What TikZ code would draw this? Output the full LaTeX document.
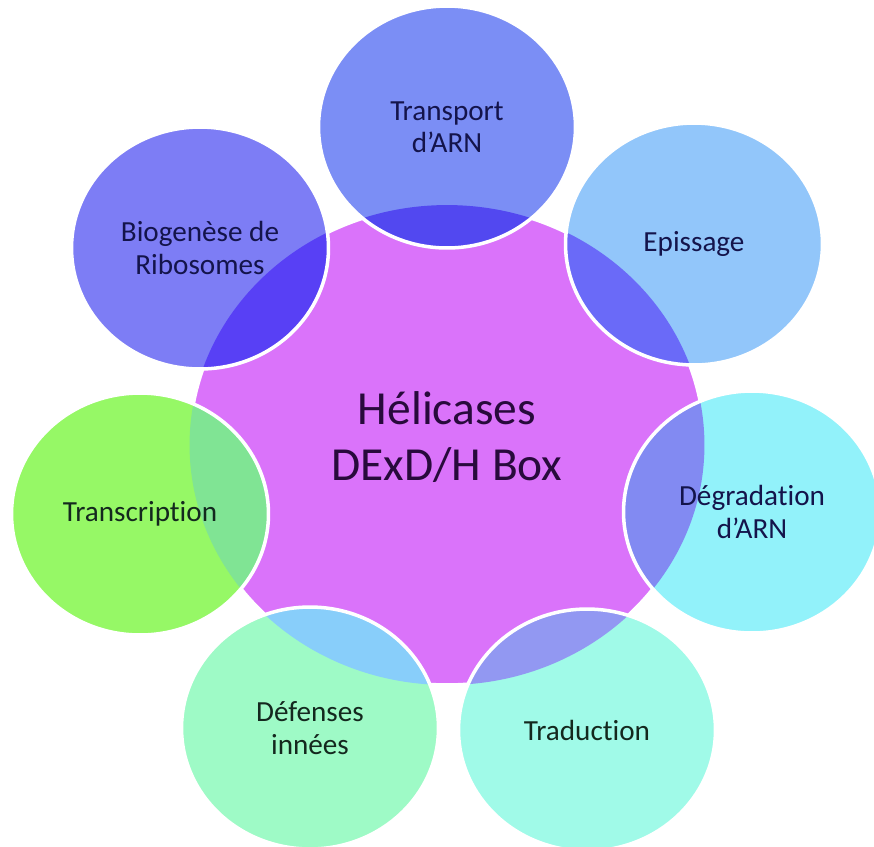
\documentclass[tikz,border=0pt]{standalone}
\usepackage{fontspec}
\setmainfont{Carlito}[Ligatures=NoCommon]
\usetikzlibrary{shapes.geometric}

\definecolor{hubpink}{RGB}{218,115,250}
\definecolor{hubtext}{RGB}{40,10,60}
\definecolor{navytext}{RGB}{20,20,75}
\definecolor{greentext}{RGB}{20,40,30}
\definecolor{transportfill}{RGB}{123,142,245}
\definecolor{transportlap}{RGB}{82,72,240}
\definecolor{biofill}{RGB}{125,125,245}
\definecolor{biolap}{RGB}{88,64,245}
\definecolor{episfill}{RGB}{146,198,250}
\definecolor{epislap}{RGB}{106,106,248}
\definecolor{degrfill}{RGB}{146,242,250}
\definecolor{degrlap}{RGB}{130,138,242}
\definecolor{tradfill}{RGB}{160,250,232}
\definecolor{tradlap}{RGB}{146,152,242}
\definecolor{defefill}{RGB}{158,250,198}
\definecolor{defelap}{RGB}{136,206,250}
\definecolor{transcfill}{RGB}{150,248,102}
\definecolor{transclap}{RGB}{128,228,148}

\begin{document}
\begin{tikzpicture}[
  x=0.02cm, y=-0.02cm,
  hub/.style={
    ellipse, minimum width=10.3cm, minimum height=9.6cm, inner sep=0pt,
    fill=hubpink, draw=white, line width=2pt
  },
  hubtitle/.style={
    text=hubtext, align=center, font=\fontsize{27}{32}\selectfont, yshift=0.16cm
  },
  topic/.style={
    ellipse, minimum width=5.14cm, minimum height=4.84cm, inner sep=0pt,
    draw=white, line width=2pt, align=center,
    text=navytext, font=\fontsize{16.6}{18.5}\selectfont
  },
  lap/.style={
    path picture={\fill[#1] (hub.center) ellipse [x radius=5.15cm, y radius=4.8cm];}
  },
]

\useasboundingbox (0,0) rectangle (874,846);

%% Central node
\node[hub, label={[hubtitle]center:Hélicases\\DExD/H Box}] (hub) at (447,445) {};

%% Surrounding functions (clockwise from top)
\node[topic, fill=transportfill, lap=transportlap] (transport) at (447,127)
  {Transport\\d’ARN};
\node[topic, fill=episfill, lap=epislap]           (epissage)  at (694,244)
  {Epissage};
\node[topic, fill=degrfill, lap=degrlap]           (degrad)    at (752,512)
  {Dégradation\\d’ARN};
\node[topic, fill=tradfill, lap=tradlap, text=greentext] (traduc) at (587,730)
  {Traduction};
\node[topic, fill=defefill, lap=defelap, text=greentext] (defense) at (310,728)
  {Défenses\\innées};
\node[topic, fill=transcfill, lap=transclap, text=greentext] (transc) at (140,514)
  {Transcription};
\node[topic, fill=biofill, lap=biolap]             (biogen)    at (200,248)
  {Biogenèse de\\Ribosomes};

\end{tikzpicture}
\end{document}
